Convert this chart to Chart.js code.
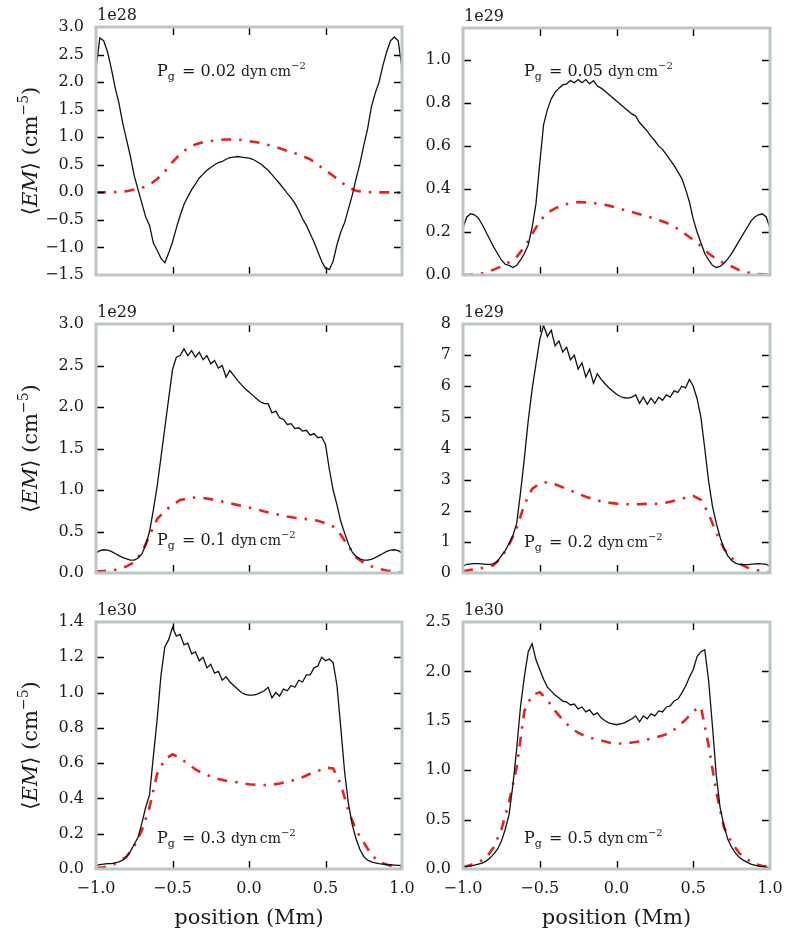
<!DOCTYPE html>
<html>
<head>
<meta charset="utf-8">
<script src="https://cdn.jsdelivr.net/npm/chart.js@4.4.0/dist/chart.umd.min.js"></script>
<style>
  body { margin: 0; background: #fff; width: 791px; height: 935px; position: relative; overflow: hidden; }
  canvas { position: absolute; }
</style>
</head>
<body>
<canvas id="c1"></canvas>
<canvas id="c2"></canvas>
<canvas id="c3"></canvas>
<canvas id="c4"></canvas>
<canvas id="c5"></canvas>
<canvas id="c6"></canvas>
<script>
// positions (Mm) of the samples
var posFine = [-1.000,-0.975,-0.950,-0.925,-0.900,-0.875,-0.850,-0.825,-0.800,-0.775,
  -0.750,-0.725,-0.700,-0.675,-0.650,-0.625,-0.600,-0.575,-0.550,-0.525,
  -0.500,-0.475,-0.450,-0.425,-0.400,-0.375,-0.350,-0.325,-0.300,-0.275,
  -0.250,-0.225,-0.200,-0.175,-0.150,-0.125,-0.100,-0.075,-0.050,-0.025,
  0.000,0.025,0.050,0.075,0.100,0.125,0.150,0.175,0.200,0.225,
  0.250,0.275,0.300,0.325,0.350,0.375,0.400,0.425,0.450,0.475,
  0.500,0.525,0.550,0.575,0.600,0.625,0.650,0.675,0.700,0.725,
  0.750,0.775,0.800,0.825,0.850,0.875,0.900,0.925,0.950,0.975,1.000]
var posCoarse = [-1.00,-0.95,-0.90,-0.85,-0.80,-0.75,-0.70,-0.65,-0.60,-0.55,
  -0.50,-0.45,-0.40,-0.35,-0.30,-0.25,-0.20,-0.15,-0.10,-0.05,
  0.00,0.05,0.10,0.15,0.20,0.25,0.30,0.35,0.40,0.45,
  0.50,0.55,0.60,0.65,0.70,0.75,0.80,0.85,0.90,0.95,1.00]

// black solid curves
var black002 = [2.25,2.80,2.75,2.55,2.25,1.90,1.62,1.25,0.95,0.65,
  0.30,0.05,-0.20,-0.45,-0.60,-0.92,-1.05,-1.20,-1.28,-1.10,
  -0.90,-0.65,-0.42,-0.22,-0.08,0.05,0.15,0.26,0.33,0.40,
  0.45,0.50,0.54,0.56,0.60,0.63,0.64,0.65,0.64,0.63,
  0.62,0.60,0.56,0.52,0.46,0.40,0.32,0.24,0.16,0.07,
  -0.02,-0.10,-0.20,-0.33,-0.48,-0.60,-0.75,-0.90,-1.08,-1.25,
  -1.38,-1.40,-1.25,-0.95,-0.72,-0.55,-0.30,-0.05,0.25,0.52,
  0.85,1.15,1.55,1.80,2.00,2.30,2.55,2.75,2.82,2.75,2.25]
var black005 = [0.22,0.27,0.285,0.28,0.265,0.235,0.20,0.165,0.13,0.10,
  0.07,0.05,0.045,0.035,0.045,0.07,0.10,0.14,0.22,0.33,
  0.52,0.70,0.77,0.82,0.85,0.87,0.885,0.89,0.905,0.895,
  0.91,0.895,0.91,0.89,0.905,0.88,0.87,0.855,0.84,0.825,
  0.81,0.795,0.78,0.765,0.75,0.74,0.71,0.69,0.67,0.645,
  0.625,0.60,0.585,0.56,0.535,0.51,0.48,0.45,0.40,0.34,
  0.26,0.20,0.15,0.10,0.07,0.045,0.035,0.04,0.055,0.075,
  0.10,0.13,0.16,0.19,0.22,0.25,0.27,0.28,0.285,0.27,0.22]
var black01 = [0.24,0.27,0.28,0.275,0.26,0.235,0.21,0.185,0.17,0.155,
  0.155,0.18,0.23,0.34,0.50,0.76,1.05,1.40,1.75,2.10,
  2.45,2.60,2.62,2.70,2.62,2.68,2.60,2.66,2.57,2.62,
  2.52,2.56,2.47,2.50,2.36,2.44,2.38,2.32,2.27,2.22,
  2.18,2.14,2.10,2.06,2.04,2.04,1.93,1.95,1.87,1.85,
  1.79,1.80,1.74,1.75,1.71,1.72,1.66,1.68,1.63,1.64,
  1.55,1.25,1.00,0.82,0.62,0.48,0.35,0.25,0.20,0.17,
  0.155,0.155,0.165,0.185,0.21,0.235,0.26,0.275,0.28,0.27,0.24]
var black02 = [0.22,0.28,0.29,0.30,0.30,0.29,0.28,0.28,0.30,0.38,
  0.55,0.72,0.95,1.20,1.60,2.60,3.70,4.90,5.90,6.70,
  7.50,7.95,7.60,7.80,7.30,7.45,7.10,7.25,6.85,7.00,
  6.55,6.75,6.30,6.55,6.10,6.40,6.22,6.08,5.95,5.85,
  5.74,5.67,5.63,5.62,5.65,5.72,5.45,5.65,5.42,5.62,
  5.45,5.65,5.55,5.72,5.65,5.85,5.80,6.00,5.95,6.22,
  6.00,5.60,5.00,4.00,2.95,2.15,1.60,1.15,0.80,0.55,
  0.40,0.32,0.28,0.27,0.27,0.28,0.29,0.30,0.29,0.28,0.22]
var black03 = [0.02,0.025,0.028,0.03,0.03,0.035,0.04,0.05,0.07,0.10,
  0.14,0.18,0.26,0.35,0.42,0.64,0.85,1.10,1.26,1.30,
  1.37,1.32,1.33,1.27,1.28,1.22,1.23,1.18,1.20,1.14,
  1.16,1.11,1.12,1.07,1.09,1.06,1.04,1.02,1.00,0.99,
  0.985,0.985,0.99,1.00,1.01,1.03,0.97,1.00,0.98,1.02,
  1.01,1.04,1.03,1.07,1.06,1.10,1.10,1.14,1.15,1.20,
  1.18,1.19,1.17,1.04,0.80,0.55,0.37,0.25,0.17,0.11,
  0.07,0.05,0.04,0.035,0.03,0.028,0.025,0.024,0.022,0.02,0.02]
var black05 = [0.02,0.025,0.03,0.04,0.05,0.06,0.08,0.11,0.15,0.20,
  0.28,0.40,0.55,0.85,1.22,1.65,1.95,2.20,2.28,2.12,
  2.02,1.92,1.84,1.80,1.76,1.73,1.70,1.69,1.66,1.67,
  1.62,1.64,1.59,1.61,1.56,1.58,1.53,1.50,1.48,1.47,
  1.46,1.47,1.48,1.50,1.52,1.55,1.49,1.55,1.52,1.57,
  1.55,1.60,1.59,1.64,1.65,1.70,1.72,1.78,1.85,1.94,
  2.02,2.15,2.20,2.22,1.91,1.45,0.95,0.62,0.44,0.30,
  0.22,0.16,0.12,0.09,0.07,0.05,0.04,0.03,0.025,0.02,0.017]

// red dash-dot curves
var red002 = [0.00,0.00,0.00,0.01,0.02,0.05,0.08,0.14,0.24,0.38,
  0.55,0.70,0.80,0.87,0.91,0.93,0.95,0.96,0.96,0.95,
  0.93,0.91,0.88,0.84,0.80,0.75,0.71,0.66,0.60,0.50,
  0.40,0.30,0.19,0.09,0.03,0.01,0.00,0.00,0.00,0.00,-0.01]
var red005 = [0.000,0.002,0.005,0.012,0.025,0.04,0.06,0.085,0.13,0.19,
  0.25,0.29,0.31,0.325,0.335,0.34,0.338,0.335,0.33,0.323,
  0.313,0.303,0.293,0.283,0.273,0.262,0.25,0.235,0.215,0.19,
  0.163,0.135,0.10,0.075,0.055,0.04,0.022,0.012,0.006,0.003,0.000]
var red01 = [0.02,0.025,0.03,0.045,0.08,0.13,0.25,0.45,0.65,0.75,
  0.82,0.88,0.90,0.91,0.905,0.89,0.87,0.85,0.83,0.81,
  0.79,0.77,0.74,0.72,0.70,0.68,0.665,0.655,0.645,0.63,
  0.60,0.56,0.46,0.32,0.19,0.12,0.08,0.05,0.03,0.015,0.005]
var red02 = [0.05,0.10,0.15,0.17,0.25,0.50,0.90,1.45,2.20,2.70,
  2.88,2.92,2.85,2.75,2.65,2.55,2.45,2.37,2.30,2.26,
  2.23,2.21,2.21,2.21,2.22,2.22,2.24,2.29,2.35,2.42,
  2.48,2.35,1.90,1.30,0.78,0.48,0.30,0.18,0.10,0.06,0.02]
var red03 = [0.005,0.01,0.02,0.04,0.07,0.13,0.22,0.35,0.54,0.62,
  0.65,0.63,0.595,0.565,0.54,0.525,0.51,0.50,0.495,0.487,
  0.48,0.477,0.476,0.478,0.485,0.495,0.505,0.52,0.54,0.555,
  0.575,0.57,0.48,0.33,0.22,0.15,0.08,0.04,0.025,0.012,0.005]
var red05 = [0.02,0.04,0.07,0.11,0.22,0.40,0.68,1.03,1.60,1.76,
  1.79,1.71,1.60,1.51,1.43,1.38,1.34,1.32,1.30,1.28,
  1.27,1.27,1.28,1.29,1.31,1.33,1.35,1.38,1.44,1.51,
  1.60,1.64,1.25,0.78,0.42,0.27,0.16,0.10,0.05,0.03,0.02]

// tick values
var xTicks = [-1, -0.5, 0, 0.5, 1]
var ticks002 = [-1.5, -1.0, -0.5, 0.0, 0.5, 1.0, 1.5, 2.0, 2.5, 3.0]
var ticks005 = [0.0, 0.2, 0.4, 0.6, 0.8, 1.0]
var ticks01 = [0.0, 0.5, 1.0, 1.5, 2.0, 2.5, 3.0]
var ticks02 = [0, 1, 2, 3, 4, 5, 6, 7, 8]
var ticks03 = [0.0, 0.2, 0.4, 0.6, 0.8, 1.0, 1.2, 1.4]
var ticks05 = [0.0, 0.5, 1.0, 1.5, 2.0, 2.5]

var exponents = ['1e28', '1e29', '1e29', '1e29', '1e30', '1e30']
var pressures = ['0.02', '0.05', '0.1', '0.2', '0.3', '0.5']

const serif = '"DejaVu Serif", "Liberation Serif", serif'
const ink = '#1a1a1a'
const spineColor = '#bcc6c6'

const fmt = (v, d) => v.toFixed(d).replace('-', '\u2212')

const partsWidth = (ctx, parts) => {
  let w = 0
  parts.forEach(p => {
    ctx.font = (p.italic ? 'italic ' : '') + p.size + 'px ' + serif
    w += ctx.measureText(p.t).width + (p.gap || 0)
  })
  return w
}

const drawParts = (ctx, x, y, parts) => {
  parts.forEach(p => {
    ctx.font = (p.italic ? 'italic ' : '') + p.size + 'px ' + serif
    ctx.fillText(p.t, x, y + (p.dy || 0))
    x += ctx.measureText(p.t).width + (p.gap || 0)
  })
}

var panels = [
  {id: 'c1', row: 0, col: 0, black: black002, red: red002, yTicks: ticks002, yMax: 3.0, dec: 1, top: 27, textY: 49},
  {id: 'c2', row: 0, col: 1, black: black005, red: red005, yTicks: ticks005, yMax: 1.15, dec: 1, top: 28, textY: 48},
  {id: 'c3', row: 1, col: 0, black: black01, red: red01, yTicks: ticks01, yMax: 3.0, dec: 1, top: 24, textY: 221},
  {id: 'c4', row: 1, col: 1, black: black02, red: red02, yTicks: ticks02, yMax: 8, dec: 0, top: 24, textY: 223},
  {id: 'c5', row: 2, col: 0, black: black03, red: red03, yTicks: ticks03, yMax: 1.4, dec: 1, top: 22, textY: 221},
  {id: 'c6', row: 2, col: 1, black: black05, red: red05, yTicks: ticks05, yMax: 2.5, dec: 1, top: 22, textY: 221}
]

const makePanel = (p, k) => {
  const cv = document.getElementById(p.id)
  const leftCol = p.col == 0
  const bottomRow = p.row == 2
  cv.width = leftCol ? 430 : 391
  cv.height = bottomRow ? 335 : 300
  cv.style.left = (leftCol ? 0 : 400) + 'px'
  cv.style.top = [0, 300, 600][p.row] + 'px'
  const xHeight = [25, 27, 66][p.row]
  const yWidth = leftCol ? 96 : 63

  const frame = {
    id: 'frame' + k,
    afterDraw(chart) {
      const ctx = chart.ctx
      const a = chart.chartArea
      const xs = chart.scales.x
      const ys = chart.scales.y
      ctx.save()

      // inward ticks
      ctx.strokeStyle = '#000'
      ctx.lineWidth = 1.4
      ctx.beginPath()
      xTicks.slice(1, -1).forEach(v => {
        const px = Math.round(xs.getPixelForValue(v)) + 0.5
        ctx.moveTo(px, a.top); ctx.lineTo(px, a.top + 8)
        ctx.moveTo(px, a.bottom); ctx.lineTo(px, a.bottom - 8)
      })
      p.yTicks.forEach(v => {
        if (v <= ys.min || v >= ys.max) return
        const py = Math.round(ys.getPixelForValue(v)) + 0.5
        ctx.moveTo(a.left, py); ctx.lineTo(a.left + 8, py)
        ctx.moveTo(a.right, py); ctx.lineTo(a.right - 8, py)
      })
      ctx.stroke()

      // frame
      ctx.strokeStyle = spineColor
      ctx.lineWidth = 3
      ctx.strokeRect(a.left, a.top, a.right - a.left, a.bottom - a.top)

      ctx.fillStyle = ink
      ctx.textBaseline = 'alphabetic'
      ctx.textAlign = 'left'

      // offset text
      ctx.font = '16px ' + serif
      ctx.fillText(exponents[k], a.left + 1, a.top - 7)

      // pressure label
      drawParts(ctx, a.left + 61, a.top + p.textY, [
        {t: 'P', size: 16},
        {t: 'g', size: 11, dy: 4, gap: 2},
        {t: ' = ' + pressures[k] + ' ', size: 16},
        {t: 'dyn', size: 14, gap: 3},
        {t: 'cm', size: 14},
        {t: '\u22122', size: 10, dy: -7}
      ])

      // y title
      if (leftCol) {
        const parts = [
          {t: '\u27e8', size: 21},
          {t: 'EM', size: 21, italic: true},
          {t: '\u27e9 (cm', size: 21},
          {t: '\u22125', size: 14, dy: -9},
          {t: ')', size: 21}
        ]
        const w = partsWidth(ctx, parts)
        ctx.translate(37, (a.top + a.bottom) / 2)
        ctx.rotate(-Math.PI / 2)
        drawParts(ctx, -w / 2, 0, parts)
      }
      ctx.restore()
    }
  }

  new Chart(cv, {
    type: 'line',
    data: {
      datasets: [
        {
          data: posFine.map((x, i) => ({x: x, y: p.black[i]})),
          borderColor: '#111',
          borderWidth: 1.3,
          pointRadius: 0,
          tension: 0
        },
        {
          data: posCoarse.map((x, i) => ({x: x, y: p.red[i]})),
          borderColor: '#e8231f',
          borderWidth: 2.6,
          borderDash: [10, 8, 2.5, 8],
          pointRadius: 0,
          tension: 0
        }
      ]
    },
    options: {
      responsive: false,
      animation: false,
      events: [],
      layout: {padding: {top: p.top, right: leftCol ? 28 : 21, left: 0, bottom: 0}},
      plugins: {legend: {display: false}, tooltip: {enabled: false}},
      scales: {
        x: {
          type: 'linear',
          min: -1,
          max: 1,
          grid: {display: false, drawTicks: false},
          border: {display: false},
          afterBuildTicks: s => { s.ticks = xTicks.map(v => ({value: v})) },
          afterFit: s => { s.height = xHeight; s.paddingLeft = 0; s.paddingRight = 0 },
          ticks: {
            display: bottomRow,
            padding: 10,
            color: ink,
            font: {family: serif, size: 16},
            maxRotation: 0,
            callback: v => fmt(v, 1)
          },
          title: {
            display: bottomRow,
            text: 'position (Mm)',
            color: ink,
            font: {family: serif, size: 21},
            padding: {top: 0, bottom: 4}
          }
        },
        y: {
          type: 'linear',
          min: p.yTicks[0],
          max: p.yMax,
          grid: {display: false, drawTicks: false},
          border: {display: false},
          afterBuildTicks: s => { s.ticks = p.yTicks.map(v => ({value: v})) },
          afterFit: s => { s.width = yWidth; s.paddingTop = 0; s.paddingBottom = 0 },
          ticks: {
            padding: 12,
            color: ink,
            font: {family: serif, size: 16},
            callback: v => fmt(v, p.dec)
          }
        }
      }
    },
    plugins: [frame]
  })
}

panels.forEach((p, k) => makePanel(p, k))
</script>
</body>
</html>
